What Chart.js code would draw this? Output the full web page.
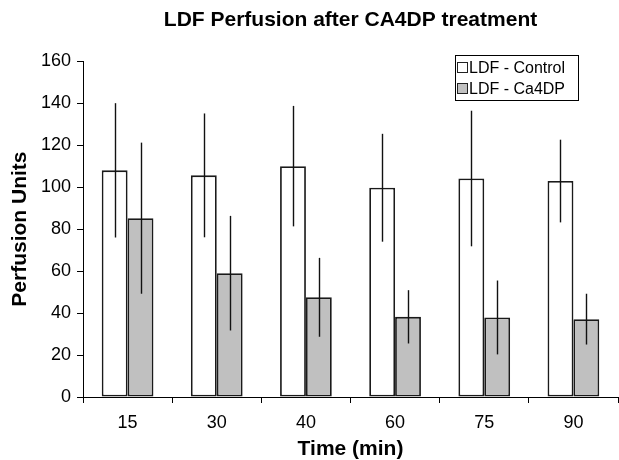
<!DOCTYPE html>
<html>
<head>
<meta charset="utf-8">
<title>LDF Perfusion after CA4DP treatment</title>
<script src="https://cdn.jsdelivr.net/npm/chart.js@4"></script>
<style>
    html, body { margin: 0; padding: 0; background: #fff; }
    #wrap { width: 619px; height: 460px; }
</style>
</head>
<body>
<div id="wrap"><canvas id="perfChart" width="619" height="460"></canvas></div>
<script>
// Data
const timeLabels = ['15', '30', '40', '60', '75', '90'];
const controlValues = [108, 105.6, 110, 99.7, 104.1, 102.9];
const controlErrors = [32, 29.5, 28.7, 25.7, 32.3, 19.7];
const ca4dpValues = [85.2, 59, 47.5, 38.2, 37.9, 37.1];
const ca4dpErrors = [36, 27.3, 18.8, 12.7, 17.6, 12.1];
const seriesNames = ['LDF - Control', 'LDF - Ca4DP'];

const FONT = "'Liberation Sans', Arial, sans-serif";
Chart.defaults.color = '#000';
Chart.defaults.font.family = FONT;

// vertical error lines, no caps
const errorBars = {
    id: 'errorBars',
    afterDatasetsDraw(chart) {
        const ctx = chart.ctx;
        const y = chart.scales.y;
        ctx.save();
        ctx.strokeStyle = '#111';
        ctx.lineWidth = 1.4;
        chart.data.datasets.forEach((ds, i) => {
            const meta = chart.getDatasetMeta(i);
            meta.data.forEach((bar, j) => {
                const v = ds.data[j];
                const e = ds.errors[j];
                const x = Math.round(bar.x) + 0.5;
                ctx.beginPath();
                ctx.moveTo(x, y.getPixelForValue(v + e));
                ctx.lineTo(x, y.getPixelForValue(v - e));
                ctx.stroke();
            });
        });
        ctx.restore();
    }
};

// boxed legend inside the plot, top right
const boxLegend = {
    id: 'boxLegend',
    afterDraw(chart) {
        const ctx = chart.ctx;
        const bx = 455.5, by = 55.5, bw = 123, bh = 45;
        ctx.save();
        ctx.fillStyle = '#fff';
        ctx.fillRect(bx, by, bw, bh);
        ctx.strokeStyle = '#000';
        ctx.lineWidth = 1;
        ctx.strokeRect(bx, by, bw, bh);
        ctx.font = '16px ' + FONT;
        ctx.textBaseline = 'middle';
        chart.data.datasets.forEach((ds, i) => {
            const cy = 68 + i * 21;
            ctx.fillStyle = ds.backgroundColor;
            ctx.fillRect(457.5, cy - 5.5, 10, 10);
            ctx.strokeStyle = '#222';
            ctx.strokeRect(457.5, cy - 5.5, 10, 10);
            ctx.fillStyle = '#000';
            ctx.fillText(ds.label, 469, cy + 1);
        });
        ctx.restore();
    }
};

new Chart(document.getElementById('perfChart').getContext('2d'), {
    type: 'bar',
    data: {
        labels: timeLabels,
        datasets: [
            {
                label: seriesNames[0],
                data: controlValues,
                errors: controlErrors,
                backgroundColor: '#ffffff',
                borderColor: '#1a1a1a',
                borderWidth: 1.8,
                borderSkipped: false
            },
            {
                label: seriesNames[1],
                data: ca4dpValues,
                errors: ca4dpErrors,
                backgroundColor: '#c0c0c0',
                borderColor: '#1a1a1a',
                borderWidth: 1.8,
                borderSkipped: false
            }
        ]
    },
    options: {
        responsive: false,
        animation: false,
        categoryPercentage: 0.58,
        barPercentage: 1,
        layout: { padding: { left: 0, right: 1, top: 0, bottom: 0 } },
        plugins: {
            legend: { display: false },
            tooltip: { enabled: false },
            title: {
                display: true,
                text: 'LDF Perfusion after CA4DP treatment',
                fullSize: false,
                font: { size: 21, weight: 'bold', lineHeight: 1.2 },
                padding: { top: 8, bottom: 28 }
            }
        },
        scales: {
            x: {
                afterFit: (scale) => { scale.height = 63; },
                grid: {
                    display: true,
                    drawOnChartArea: false,
                    drawTicks: true,
                    tickLength: 6,
                    color: '#000',
                    offset: true
                },
                border: { display: true, color: '#000', width: 1 },
                ticks: { font: { size: 18 }, padding: 9, maxRotation: 0 },
                title: {
                    display: true,
                    text: 'Time (min)',
                    font: { size: 21, weight: 'bold', lineHeight: 1 },
                    padding: { top: 0, bottom: 0 }
                }
            },
            y: {
                min: 0,
                max: 160,
                afterFit: (scale) => { scale.width = 83; },
                grid: {
                    display: true,
                    drawOnChartArea: false,
                    drawTicks: true,
                    tickLength: 6,
                    color: '#000'
                },
                border: { display: true, color: '#000', width: 1 },
                ticks: { stepSize: 20, font: { size: 18 }, padding: 6 },
                title: {
                    display: true,
                    text: 'Perfusion Units',
                    font: { size: 21, weight: 'bold', lineHeight: 1.2 },
                    padding: { top: 8, bottom: 0 }
                }
            }
        }
    },
    plugins: [errorBars, boxLegend]
});
</script>
</body>
</html>
